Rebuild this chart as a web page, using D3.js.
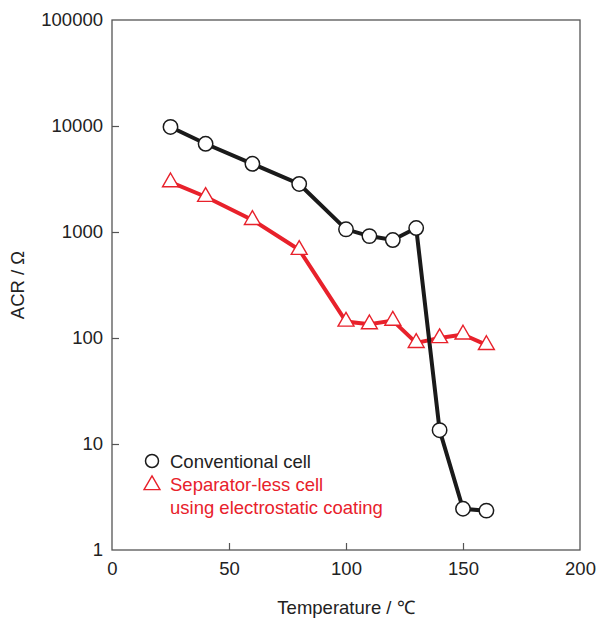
<!DOCTYPE html>
<html>
<head>
<meta charset="utf-8">
<script src="https://cdn.jsdelivr.net/npm/d3@7"></script>
<style>
 body { margin: 0; background: #fff; }
 svg text { font-family: "Liberation Sans", Arial, sans-serif; }
</style>
</head>
<body>
<svg id="chart" width="598" height="618"></svg>
<script>
// temperatures (deg C) and ACR values
var temps = [25, 40, 60, 80, 100, 110, 120, 130, 140, 150, 160];
var conventional = [9800, 6800, 4400, 2840, 1060, 915, 840, 1090, 13.5, 2.45, 2.35];
var separatorless = [2950, 2150, 1300, 680, 143, 135, 146, 90, 100, 108, 86];
var xTicks = [0, 50, 100, 150, 200];
var yTicks = [1, 10, 100, 1000, 10000, 100000];

var svg = d3.select('#chart');
var pLeft = 112, pRight = 580, pTop = 20, pBottom = 550;
var fs = '18.5px';

var x = d3.scaleLinear().domain([0, 200]).range([pLeft, pRight]);
var y = d3.scaleLog().domain([1, 100000]).range([pBottom, pTop]);

var axisCol = '#555';

// frame
svg.append('rect')
  .attr('x', pLeft).attr('y', pTop)
  .attr('width', pRight - pLeft).attr('height', pBottom - pTop)
  .style('fill', 'none').style('stroke', axisCol).style('stroke-width', 1.3);

var xAxis = svg.append('g').attr('transform', 'translate(0,' + pBottom + ')')
  .call(d3.axisBottom(x).tickValues(xTicks).tickSize(-7).tickPadding(12).tickFormat(d3.format('d')));
var yAxis = svg.append('g').attr('transform', 'translate(' + pLeft + ',0)')
  .call(d3.axisLeft(y).tickValues(yTicks).tickSize(-7).tickPadding(9).tickFormat(d3.format('d')));

[xAxis, yAxis].forEach(function(g) {
  g.select('.domain').remove();
  g.selectAll('line').style('stroke', axisCol).style('stroke-width', 1.2);
  g.selectAll('text').style('font-size', fs).style('fill', '#222')
   .style('font-family', '"Liberation Sans", Arial, sans-serif');
});
// ticks at the frame corners are hidden by the frame
xAxis.selectAll('.tick').filter(function(d) { return d == 0 || d == 200; }).select('line').remove();
yAxis.selectAll('.tick').filter(function(d) { return d == 1 || d == 100000; }).select('line').remove();

svg.append('text')
  .attr('x', (pLeft + pRight) / 2).attr('y', 614)
  .attr('text-anchor', 'middle').style('font-size', fs).style('fill', '#222')
  .text('Temperature / ℃');
svg.append('text')
  .attr('transform', 'translate(24,' + (pTop + pBottom) / 2 + ') rotate(-90)')
  .attr('text-anchor', 'middle').style('font-size', fs).style('fill', '#222')
  .text('ACR / Ω');

var red = '#e8212b';
var line = d3.line().x(function(d) { return x(d[0]); }).y(function(d) { return y(d[1]); });

var convPts = d3.zip(temps, conventional);
var sepPts = d3.zip(temps, separatorless);

svg.append('path').datum(sepPts).attr('d', line)
  .style('fill', 'none').style('stroke', red).style('stroke-width', 4);
svg.append('path').datum(convPts).attr('d', line)
  .style('fill', 'none').style('stroke', '#1a1a1a').style('stroke-width', 4);

var tri = d3.symbol().type(d3.symbolTriangle).size(110);

svg.selectAll('.tri').data(sepPts).enter().append('path')
  .attr('class', 'tri')
  .attr('d', tri)
  .attr('transform', function(d) { return 'translate(' + x(d[0]) + ',' + y(d[1]) + ')'; })
  .style('fill', '#fff').style('stroke', red).style('stroke-width', 1.4);

svg.selectAll('.circ').data(convPts).enter().append('circle')
  .attr('class', 'circ')
  .attr('cx', function(d) { return x(d[0]); })
  .attr('cy', function(d) { return y(d[1]); })
  .attr('r', 7.2)
  .style('fill', '#fff').style('stroke', '#1a1a1a').style('stroke-width', 1.5);

// legend
var lg = svg.append('g').attr('transform', 'translate(152,0)');
lg.append('circle').attr('cx', 0).attr('cy', 461).attr('r', 6.5)
  .style('fill', '#fff').style('stroke', '#1a1a1a').style('stroke-width', 1.5);
lg.append('path').attr('d', tri).attr('transform', 'translate(0,485)')
  .style('fill', '#fff').style('stroke', red).style('stroke-width', 1.4);
lg.append('text').attr('x', 18).attr('y', 468).style('font-size', fs).style('fill', '#222')
  .text('Conventional cell');
lg.append('text').attr('x', 18).attr('y', 491).style('font-size', fs).style('fill', red)
  .text('Separator-less cell');
lg.append('text').attr('x', 18).attr('y', 514).style('font-size', fs).style('fill', red)
  .text('using electrostatic coating');
</script>
</body>
</html>
